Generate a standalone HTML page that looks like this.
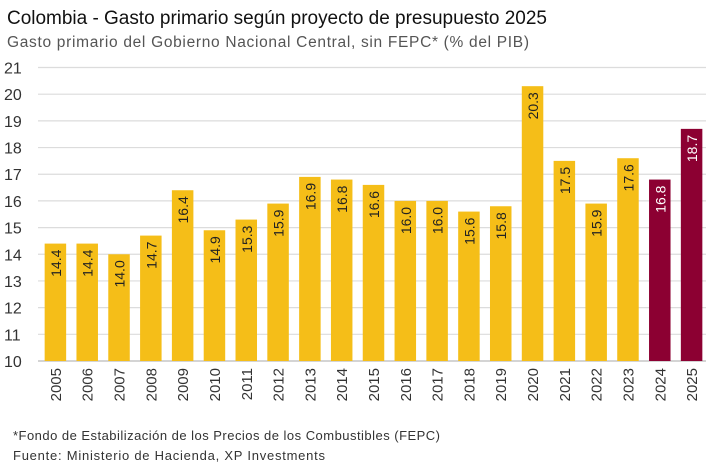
<!DOCTYPE html>
<html><head><meta charset="utf-8"><style>
body{margin:0;background:#fff;font-family:"Liberation Sans",sans-serif;}
</style></head><body>
<svg width="708" height="468" id="c" font-family="Liberation Sans, sans-serif">
<text x="7" y="24" font-size="19" fill="#111" textLength="540">Colombia - Gasto primario según proyecto de presupuesto 2025</text>
<text x="7" y="47" font-size="15.5" fill="#555" textLength="522">Gasto primario del Gobierno Nacional Central, sin FEPC* (% del PIB)</text>
<text x="13" y="440" font-size="13" fill="#333" textLength="427">*Fondo de Estabilización de los Precios de los Combustibles (FEPC)</text>
<text x="13" y="460" font-size="13" fill="#333" textLength="312">Fuente: Ministerio de Hacienda, XP Investments</text>
<g id="plot"></g>
</svg>
<script>
const years=["2005","2006","2007","2008","2009","2010","2011","2012","2013","2014","2015","2016","2017","2018","2019","2020","2021","2022","2023","2024","2025"];
const values=[14.4,14.4,14.0,14.7,16.4,14.9,15.3,15.9,16.9,16.8,16.6,16.0,16.0,15.6,15.8,20.3,17.5,15.9,17.6,16.8,18.7];
const highlight=["2024","2025"];
const yTicks=[10,11,12,13,14,15,16,17,18,19,20,21];
const NS="http://www.w3.org/2000/svg";
const g=document.getElementById('plot');
const x0=38,x1=706,yTop=67.5,yBot=361,vmin=10,vmax=21;
const y=v=>yBot-(v-vmin)/(vmax-vmin)*(yBot-yTop);
const band=(x1-x0)/years.length;
const bx=i=>x0+band*i+band*0.5+1.5;
function el(t,a,txt){const e=document.createElementNS(NS,t);for(const k in a)e.setAttribute(k,a[k]);if(txt!=null)e.textContent=txt;g.appendChild(e);return e;}
yTicks.forEach(t=>{
 const l=el('line',{x1:x0,x2:x1,y1:y(t),y2:y(t),stroke:t===10?'#bbb':'#dcdcdc','stroke-width':1.2});
 
 
 const tx=el('text',{x:4,y:y(t)+6,'font-size':16,fill:'#333'},String(t));
 
 
});
years.forEach((yr,i)=>{
 const c=bx(i),w=21.5,v=values[i];
 const r=el('rect',{x:c-w/2,y:y(v),width:w,height:yBot-y(v),fill:highlight.includes(yr)?'#8C0032':'#F5BE18'});
 
 
 const lbl=el('text',{transform:`translate(${c+5.5},${y(v)+6}) rotate(-90)`,'font-size':14,'text-anchor':'end',fill:highlight.includes(yr)?'#fff':'#222'},v.toFixed(1));
 
 
 const xl=el('text',{transform:`translate(${c+5.5},${yBot+7}) rotate(-90)`,'font-size':15,'text-anchor':'end',fill:'#333'},yr);
 
 
});
</script>
</body></html>
